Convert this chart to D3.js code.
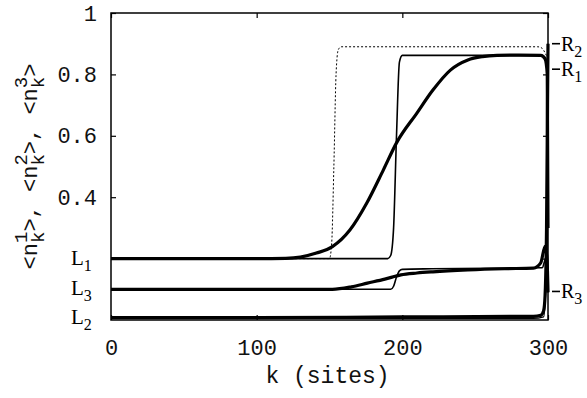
<!DOCTYPE html>
<html><head><meta charset="utf-8">
<script src="https://cdn.jsdelivr.net/npm/d3@7"></script>
<style>body{margin:0;background:#fff}</style>
</head><body><svg id="c" width="587" height="398"></svg>
<script>
// ---- data ----
const kSim1 = [0,100,120,130,141,152,164,175.6,187,196,210,221,233,245,255,265,280,295,298,299.5,300];
const nSim1 = [0.2,0.2,0.201,0.205,0.218,0.239,0.293,0.381,0.489,0.577,0.674,0.749,0.814,0.847,0.858,0.862,0.863,0.862,0.85,0.8,0.3];
const kMf1 = [0,190,192,194,196,198,200,296,298.5,300];
const nMf1 = [0.2,0.2,0.21,0.3,0.6,0.84,0.862,0.862,0.85,0.82];
const kDash1 = [0,150,151.5,153,154.5,156,158,293,296,298,300];
const nDash1 = [0.2,0.2,0.25,0.5,0.8,0.88,0.89,0.89,0.885,0.87,0.85];
const kSim3 = [0,100,140,152,165,176,188,199,210,221,245,270,290,295,298,299.3,300];
const nSim3 = [0.1,0.1,0.1,0.1,0.108,0.12,0.133,0.147,0.153,0.157,0.163,0.167,0.169,0.186,0.24,0.2,0.09];
const kMf3 = [0,192,194,196,198,200,220,296,298.5,300];
const nMf3 = [0.1,0.1,0.11,0.14,0.16,0.165,0.167,0.17,0.2,0.09];
const kSim2 = [0,100,200,290,295,297,298,299,300];
const nSim2 = [0.008,0.008,0.01,0.012,0.015,0.03,0.08,0.3,0.9];
const kMf2 = [0,290,297,298.5,299.3,300];
const nMf2 = [0.005,0.005,0.01,0.1,0.5,0.9];
const xTicks = [0,100,200,300];
const yTicks = [0.2,0.4,0.6,0.8,1];
const yTickLabels = ["","0.4","0.6","0.8","1"];
const leftLabels = [{main:"L",sub:"1",v:0.2},{main:"L",sub:"3",v:0.1},{main:"L",sub:"2",v:0.005}];
const rightLabels = [{main:"R",sub:"2",v:0.90},{main:"R",sub:"1",v:0.817},{main:"R",sub:"3",v:0.093}];

const svg = d3.select("#c");
const x = d3.scaleLinear().domain([0,300]).range([111,548]);
const y = d3.scaleLinear().domain([0,1]).range([320,13]);
const mono = "'Liberation Mono','Courier New',monospace";
const serif = "'Liberation Serif','Times New Roman',serif";

// curves
const line = d3.line().x(d=>x(d[0])).y(d=>y(d[1])).curve(d3.curveMonotoneX);
function draw(ks, ns, w, dash){
  svg.append("path").datum(ks.map((k,i)=>[k,ns[i]]))
    .attr("d", line).attr("fill","none").attr("stroke","#000")
    .attr("stroke-width", w).attr("stroke-dasharray", dash||null)
    .attr("stroke-linejoin","round");
}
draw(kDash1,nDash1,1,"2,2");
draw(kMf1,nMf1,1.6);
draw(kMf3,nMf3,1.6);
draw(kMf2,nMf2,1.2);
draw(kSim1,nSim1,3.2);
draw(kSim3,nSim3,3.2);
draw(kSim2,nSim2,3.2);

// axes
function styleAxis(g){ g.select(".domain").remove(); g.selectAll("line").attr("stroke","#000").attr("stroke-width",1.2);
  g.selectAll("text").attr("font-family",mono).attr("font-size",22).attr("fill","#111"); }
svg.append("g").attr("transform",`translate(${x(0)},0)`)
  .call(d3.axisLeft(y).tickValues(yTicks).tickSize(-5).tickPadding(14).tickFormat((d,i)=>yTickLabels[i])).call(styleAxis);
svg.append("g").attr("transform",`translate(${x(300)},0)`)
  .call(d3.axisRight(y).tickValues(yTicks).tickSize(-5).tickFormat("")).call(styleAxis);
svg.append("g").attr("transform",`translate(0,${y(0)})`)
  .call(d3.axisBottom(x).tickValues(xTicks).tickSize(-5).tickPadding(19).tickFormat(d3.format("d"))).call(styleAxis);
svg.append("g").attr("transform",`translate(0,${y(1)})`)
  .call(d3.axisTop(x).tickValues(xTicks).tickSize(-5).tickFormat("")).call(styleAxis);

// frame
svg.append("rect").attr("x",x(0)).attr("y",y(1)).attr("width",x(300)-x(0)).attr("height",y(0)-y(1))
  .attr("fill","none").attr("stroke","#000").attr("stroke-width",1.5);

// x title
svg.append("text").attr("x",(x(0)+x(300))/2 - 2).attr("y",383).attr("text-anchor","middle")
  .attr("font-family",mono).attr("font-size",23).attr("fill","#111").text("k (sites)");

// y title
const yt = svg.append("text").attr("transform",`translate(37,${(y(0)+y(1))/2}) rotate(-90)`)
  .attr("text-anchor","middle").attr("font-family",mono).attr("font-size",22).attr("fill","#111");
[1,2,3].forEach((s,i)=>{
  yt.append("tspan").text("<n");
  yt.append("tspan").attr("font-size",19).attr("dy",-10).text(s);
  yt.append("tspan").attr("font-size",19).attr("dx",-11.4).attr("dy",17).text("k");
  yt.append("tspan").attr("dy",-7).text(i<2?">, ":">");
});

// left labels
leftLabels.forEach(l=>{
  const t = svg.append("text").attr("x",71).attr("y",y(l.v)+6).attr("font-family",serif).attr("font-size",21);
  t.append("tspan").text(l.main);
  t.append("tspan").attr("font-size",16).attr("dy",6).text(l.sub);
});
// right labels
rightLabels.forEach(l=>{
  svg.append("line").attr("x1",552).attr("x2",560).attr("y1",y(l.v)).attr("y2",y(l.v)).attr("stroke","#000").attr("stroke-width",1.6);
  const t = svg.append("text").attr("x",561).attr("y",y(l.v)+7).attr("font-family",serif).attr("font-size",20);
  t.append("tspan").text(l.main);
  t.append("tspan").attr("font-size",16).attr("dy",6).text(l.sub);
});
</script></body></html>
